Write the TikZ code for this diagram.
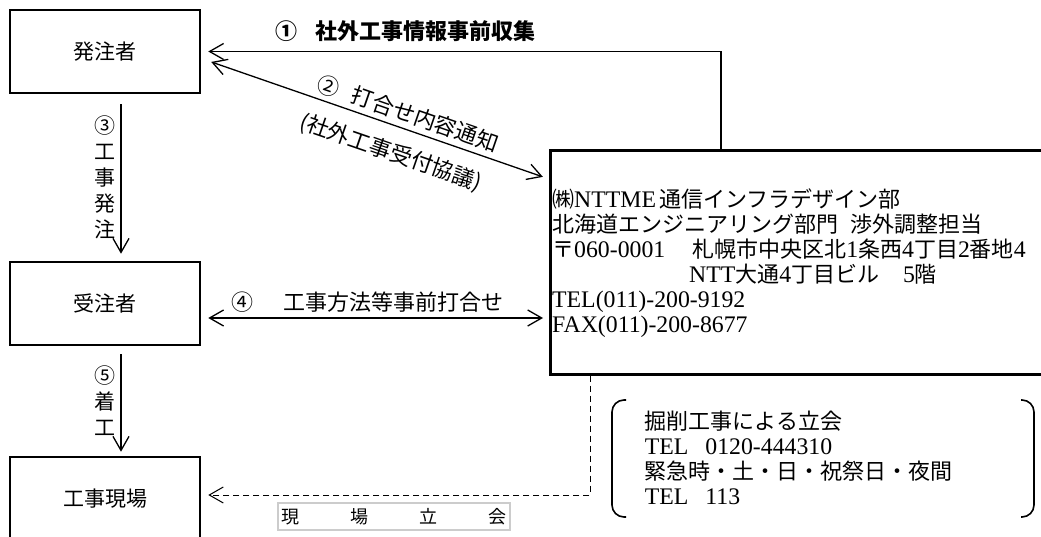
\documentclass[tikz,border=0pt]{standalone}
\usepackage{fontspec}
\setmainfont{Liberation Serif}[Scale=1.08]
\newfontfamily\jp{Noto Sans CJK JP}
\usetikzlibrary{arrows.meta,positioning}

\begin{document}
\begin{tikzpicture}[x=1pt,y=-1pt,
		>={Straight Barb[length=14pt,width=16pt]},
		box/.style={draw,line width=2.6pt,minimum width=190pt,font=\jp\fontsize{21}{25}\selectfont},
		link/.style={line width=1.3pt},
		tag/.style={font=\jp\fontsize{21}{26}\selectfont,inner sep=3pt},
		memo/.style={align=left,font=\fontsize{22}{25}\selectfont,inner sep=3pt}]
		\useasboundingbox (0,0) rectangle (1041,537);
		\node [box,minimum height=83pt] (hatchu) at (105,51.5) {発注者};
		\node [box,minimum height=83pt] (juchu) at (105,303.5) {受注者};
		\node [box,minimum height=84pt] (genba) at (105,499) {工事現場};
		\node [draw,line width=2.6pt,anchor=north west,minimum width=500pt,minimum height=224pt] (nttme) at (549,149) {};
		\node [memo,below right=37pt and 0pt of nttme.north west] (addr) {{\jp ㈱}NTTME\hspace{3pt}{\jp 通信インフラデザイン部}\\
			{\jp 北海道エンジニアリング部門}\enspace{\jp 渉外調整担当}\\
			{\jp 〒}060-0001\hspace{27pt}{\jp 札幌市中央区北}1{\jp 条西}4{\jp 丁目}2{\jp 番地}4\\
			\hspace*{137pt}NTT{\jp 大通}4{\jp 丁目ビル}\quad 5{\jp 階}\\
			TEL(011)-200-9192\\
			FAX(011)-200-8677};
		\coordinate (k1) at (721,52);
		\coordinate (k3) at (590,495);
		\draw [link,->,shorten >=7pt] (nttme.north -| k1) |- (hatchu.east) node [tag,pos=0.804,above=6pt,font=\jp\bfseries\fontsize{22}{26}\selectfont] (lbl1) {①\hspace{18pt}社外工事情報事前収集};
		\draw [link,<->,shorten <=10.5pt,shorten >=6.5pt] ([yshift=-7pt]hatchu.east) -- ([yshift=-30pt]nttme.north west) node [tag,pos=0.58,sloped,above=2pt,font=\jp\fontsize{22}{26}\selectfont] (lbl2a) {②\hspace{14pt}打合せ内容通知} node [tag,pos=0.57,sloped,below=12pt,font=\jp\fontsize{22}{26}\selectfont] (lbl2b) {(社外工事受付協議)};
		\draw [link,->,shorten <=10pt,shorten >=7pt] ([xshift=16pt]hatchu.south) -- ([xshift=16pt]juchu.north) node [tag,midway,left=1.5pt,align=center] (lbl3) {③\\工\\事\\発\\注};
		\draw [link,<->,shorten <=7pt,shorten >=6pt] ([yshift=-14.5pt]juchu.east) -- ([yshift=-14.5pt]juchu.east -| nttme.west) node [tag,midway,above=2pt,xshift=-8pt,font=\jp\fontsize{22}{26}\selectfont] (lbl4) {④\hspace{30pt}工事方法等事前打合せ};
		\draw [link,->,shorten <=8pt,shorten >=4pt] ([xshift=16pt]juchu.south) -- ([xshift=16pt]genba.north) node [tag,midway,left=1.5pt,align=center] (lbl5) {⑤\\着\\工};
		\draw [line width=1pt,dash pattern=on 6pt off 4pt,->,shorten >=7pt] (nttme.south -| k3) |- (genba.east |- k3);
		\node [draw=gray!40,line width=1.5pt,text width=226pt,inner xsep=3pt,minimum height=27pt,font=\jp\fontsize{18}{20}\selectfont] (tachiai) at (394,516.5) {現\hfill 場\hfill 立\hfill 会};
		\node [memo,anchor=west] (kussaku) at (641.7,457.5) {{\jp 掘削工事による立会}\\
			TEL\hspace{17pt}0120-444310\\
			{\jp 緊急時・土・日・祝祭日・夜間}\\
			TEL\hspace{17pt}113};
		\draw [line width=1.6pt,rounded corners=12pt] (626,400) -- (612,400) -- (612,517) -- (626,517);
		\draw [line width=1.6pt,rounded corners=12pt] (1021,400) -- (1034,400) -- (1034,517) -- (1021,517);
	\end{tikzpicture}
\end{document}
